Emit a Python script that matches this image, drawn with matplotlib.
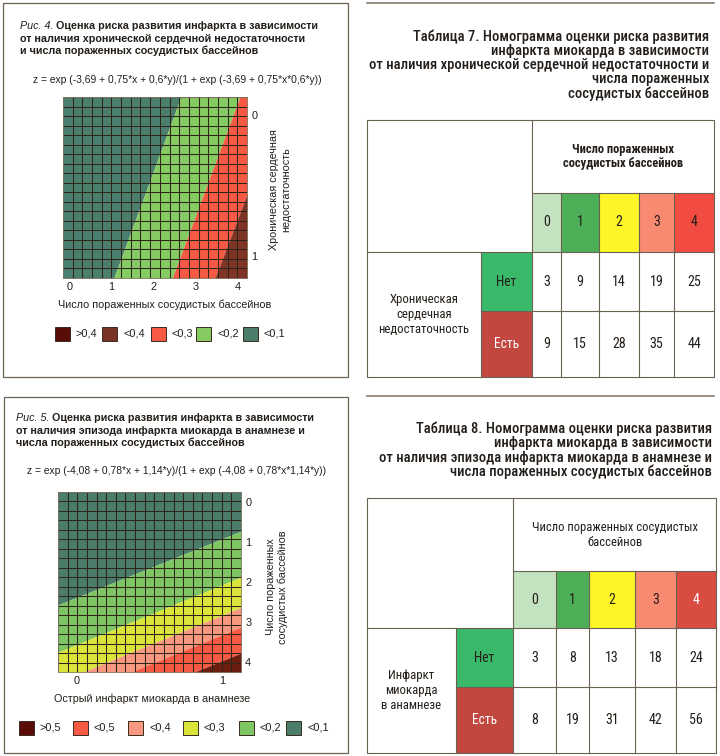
import matplotlib
matplotlib.use("Agg")
import matplotlib.pyplot as plt
from matplotlib.patches import Rectangle
import numpy as np

W, H = 720, 756
SANS = ['Liberation Sans', 'DejaVu Sans']
NARROW = ['Roboto Condensed', 'Liberation Sans Narrow', 'Roboto', 'DejaVu Sans']
INK = '#231e19'
FRAME = '#6b6152'
GRID = '#2e2418'

# --- fig. 4: risk vs. number of affected vascular beds and CHF ---
fig4_formula = "z = exp (-3,69 + 0,75*x + 0,6*y)/(1 + exp (-3,69 + 0,75*x*0,6*y))"
fig4_xticks = [0, 1, 2, 3, 4]
fig4_yticks = [0, 1]
# x position of each band edge at CHF = 0 and CHF = 1
fig4_edge_at0 = [2.49, 3.89, 4.94]
fig4_edge_at1 = [1.25, 2.64, 3.66]
fig4_band_colors = ['#4b7f6d', '#86cb62', '#f75a44', '#7f3526']
fig4_legend = ['>0,4', '<0,4', '<0,3', '<0,2', '<0,1']
fig4_legend_colors = ['#5a0d08', '#7a3322', '#f65a45', '#86cb62', '#4b7d6b']

# --- fig. 5: risk vs. previous MI and number of affected vascular beds ---
fig5_formula = "z = exp (-4,08 + 0,78*x + 1,14*y)/(1 + exp (-4,08 + 0,78*x*1,14*y))"
fig5_xticks = [0, 1]
fig5_yticks = [0, 1, 2, 3, 4]
# y position of each band edge at MI = 0 and MI = 1
fig5_edge_at0 = [2.38, 3.56, 4.31, 4.80, 5.45]
fig5_edge_at1 = [0.92, 2.07, 2.83, 3.32, 3.97]
fig5_band_colors = ['#4b7d6b', '#7ec564', '#d9e53b', '#f8997f', '#f75a44', '#6b1e0f']
fig5_legend = ['>0,5', '<0,5', '<0,4', '<0,3', '<0,2', '<0,1']
fig5_legend_colors = ['#5a0d08', '#f65a45', '#f8997f', '#d9e53b', '#7ec564', '#4b7d6b']

# --- tables 7 and 8 ---
table_cols = ['0', '1', '2', '3', '4']
table_rows = ['Нет', 'Есть']
t7_values = [[3, 9, 14, 19, 25], [9, 15, 28, 35, 44]]
t8_values = [[3, 8, 13, 18, 24], [8, 19, 31, 42, 56]]
t7_col_colors = ['#c3e2bf', '#4caf58', '#fff526', '#f98a72', '#f24b41']
t8_col_colors = ['#c3e2bf', '#4caf58', '#fff526', '#f98a72', '#d94c42']
t7_col_text = [INK, INK, INK, INK, INK]
t8_col_text = [INK, INK, INK, INK, 'white']
row_colors = ['#3bb96b', '#c1473f']
row_text = [INK, 'white']


def pt(px):
    return px * 0.72


fig = plt.figure(figsize=(W / 100, H / 100), dpi=100)
bg = fig.add_axes([0, 0, 1, 1])
bg.set_xlim(0, W)
bg.set_ylim(H, 0)
bg.axis('off')


def add_plot(l, t, r, b):
    return fig.add_axes([l / W, 1 - b / H, (r - l) / W, (b - t) / H])


def grid_cells(ax, ncols, nrows):
    for f in np.linspace(0, 1, ncols + 1):
        ax.plot([f, f], [0, 1], transform=ax.transAxes, color=GRID, lw=0.75)
    for f in np.linspace(0, 1, nrows + 1):
        ax.plot([0, 1], [f, f], transform=ax.transAxes, color=GRID, lw=0.75)


def style_plot(ax):
    ax.yaxis.tick_right()
    ax.tick_params(length=0, pad=3, labelsize=pt(11), labelcolor=INK)
    for lab in ax.get_xticklabels() + ax.get_yticklabels():
        lab.set_family(SANS)
    for s in ax.spines.values():
        s.set_color('#8a8070')
        s.set_linewidth(0.6)


def edge(a0, a1, t):
    # straight band edge known at 0 and 1, carried to t
    return [a0 + (a1 - a0) * v for v in t]


def panel_title(x, y0, first, rest, formula, fy):
    t = bg.text(x, y0, first, fontsize=pt(10.7), style='italic', family=SANS,
                color=INK, va='bottom')
    bg.annotate(rest[0], xy=(1, 0), xycoords=t, fontsize=pt(10.7), weight='bold',
                family=SANS, color=INK, va='bottom')
    for i, line in enumerate(rest[1:]):
        bg.text(x, y0 + 12.5 * (i + 1), line, fontsize=pt(10.7), weight='bold',
                family=SANS, color=INK, va='bottom')
    bg.text(177, fy, formula, fontsize=pt(10.2), family=SANS, color=INK,
            ha='center', va='center')


def legend_row(xs, y, labels, colors):
    for x, lab, c in zip(xs, labels, colors):
        bg.add_patch(Rectangle((x, y), 15, 14, facecolor=c, edgecolor='#3a2a20', lw=0.7))
        bg.text(x + 21, y + 7, lab, fontsize=pt(11), family=SANS, color=INK,
                va='center')


# panel frames
bg.add_patch(Rectangle((2.5, 2.5), 345, 374.5, fill=False, edgecolor=FRAME, lw=0.9))
bg.add_patch(Rectangle((3.5, 396.5), 344, 356.5, fill=False, edgecolor=FRAME, lw=0.9))

# ---------- fig. 4 ----------
panel_title(20, 31, "Рис. 4. ",
            ["Оценка риска развития инфаркта в зависимости",
             "от наличия хронической сердечной недостаточности",
             "и числа пораженных сосудистых бассейнов"],
            fig4_formula, 80)

ax1 = add_plot(63, 97, 247, 278)
ys = [-1, 2]
for i, c in enumerate(fig4_band_colors):
    left = edge(fig4_edge_at0[i - 1], fig4_edge_at1[i - 1], ys) if i > 0 else [-5, -5]
    right = edge(fig4_edge_at0[i], fig4_edge_at1[i], ys) if i < len(fig4_edge_at0) else [10, 10]
    ax1.fill_betweenx(ys, left, right, color=c, lw=0)
ax1.set_xlim(-0.15, 4.22)
ax1.set_ylim(1.156, -0.128)
ax1.set_xticks(fig4_xticks)
ax1.set_yticks(fig4_yticks)
grid_cells(ax1, 19, 19)
style_plot(ax1)

bg.text(165, 305, "Число пораженных сосудистых бассейнов", fontsize=pt(10.7),
        family=SANS, color=INK, ha='center', va='center')
bg.text(280, 190, "Хроническая сердечная\nнедостаточность", fontsize=pt(10.7),
        family=SANS, color=INK, ha='center', va='center', rotation=90,
        multialignment='center', linespacing=1.3)
legend_row([55, 102, 151, 196, 243], 327, fig4_legend, fig4_legend_colors)

# ---------- fig. 5 ----------
panel_title(16, 423, "Рис. 5. ",
            ["Оценка риска развития инфаркта в зависимости",
             "от наличия эпизода инфаркта миокарда в анамнезе и",
             "числа пораженных сосудистых бассейнов"],
            fig5_formula, 471)

ax2 = add_plot(58, 492, 241, 672)
xs = [-1, 2]
for i, c in enumerate(fig5_band_colors):
    top = edge(fig5_edge_at0[i - 1], fig5_edge_at1[i - 1], xs) if i > 0 else [-5, -5]
    bottom = edge(fig5_edge_at0[i], fig5_edge_at1[i], xs) if i < len(fig5_edge_at0) else [10, 10]
    ax2.fill_between(xs, top, bottom, color=c, lw=0)
ax2.set_xlim(-0.131, 1.131)
ax2.set_ylim(4.25, -0.25)
ax2.set_xticks(fig5_xticks)
ax2.set_yticks(fig5_yticks)
grid_cells(ax2, 19, 19)
style_plot(ax2)

bg.text(152, 699, "Острый инфаркт миокарда в анамнезе", fontsize=pt(10.7),
        family=SANS, color=INK, ha='center', va='center')
bg.text(277, 587, "Число пораженных\nсосудистых бассейнов", fontsize=pt(10.7),
        family=SANS, color=INK, ha='center', va='center', rotation=90,
        multialignment='center', linespacing=1.3)
legend_row([19, 73, 128, 183, 239, 286], 721, fig5_legend, fig5_legend_colors)


# ---------- tables ----------
def draw_table(x0, xr, xc, ys, title, title_y, title_x, header, header_bold,
               row_title, col_colors, col_text, values):
    # xc: column edges of the numeric block, ys: top, header, colour row, row 1, row 2
    top, yh, yc, y1, y2 = ys
    x1 = xc[-1]
    bg.text(title_x, title_y, title, fontsize=pt(14.6), weight='medium', family=NARROW,
            color=INK, ha='right', va='center', multialignment='right', linespacing=1.02)
    for j, lab in enumerate(table_cols):
        bg.add_patch(Rectangle((xc[j], yh), xc[j + 1] - xc[j], yc - yh,
                               facecolor=col_colors[j], edgecolor='none'))
        bg.text((xc[j] + xc[j + 1]) / 2, (yh + yc) / 2, lab, fontsize=pt(14),
                family=NARROW, color=col_text[j], ha='center', va='center')
    bounds = [yc, y1, y2]
    for i, lab in enumerate(table_rows):
        bg.add_patch(Rectangle((xr, bounds[i]), xc[0] - xr, bounds[i + 1] - bounds[i],
                               facecolor=row_colors[i], edgecolor='none'))
        bg.text((xr + xc[0]) / 2, (bounds[i] + bounds[i + 1]) / 2, lab, fontsize=pt(13.5),
                family=NARROW, color=row_text[i], ha='center', va='center')
        for j, v in enumerate(values[i]):
            bg.text((xc[j] + xc[j + 1]) / 2, (bounds[i] + bounds[i + 1]) / 2, str(v),
                    fontsize=pt(14), family=NARROW, color=INK, ha='center', va='center')
    bg.text((xc[0] + x1) / 2, (top + yh) / 2, header, fontsize=pt(12.5),
            weight='bold' if header_bold else 'normal', family=NARROW, color=INK,
            ha='center', va='center', linespacing=1.2)
    bg.text((x0 + xr) / 2, (yc + y2) / 2, row_title, fontsize=pt(12.8), family=NARROW,
            color=INK, ha='center', va='center', linespacing=1.17)
    lw = 0.8
    bg.add_patch(Rectangle((x0, top), x1 - x0, y2 - top, fill=False, edgecolor=FRAME, lw=lw))
    bg.plot([xc[0], xc[0]], [top, y2], color=FRAME, lw=lw)
    bg.plot([x0, x1], [yc, yc], color=FRAME, lw=lw)
    bg.plot([xc[0], x1], [yh, yh], color=FRAME, lw=lw)
    bg.plot([xr, x1], [y1, y1], color=FRAME, lw=lw)
    bg.plot([xr, xr], [yc, y2], color=FRAME, lw=lw)
    for x in xc[1:-1]:
        bg.plot([x, x], [yh, y2], color=FRAME, lw=lw)


bg.plot([367, 714], [3, 3], color='#7a7062', lw=1.1)
draw_table(367, 481, [532, 561, 599, 639, 674, 714], [120, 193, 252, 311, 377],
           "Таблица 7. Номограмма оценки риска развития\nинфаркта миокарда в зависимости\n"
           "от наличия хронической сердечной недостаточности и\nчисла пораженных\n"
           "сосудистых бассейнов", 65, 709,
           "Число пораженных\nсосудистых бассейнов", True,
           "Хроническая\nсердечная\nнедостаточность",
           t7_col_colors, t7_col_text, t7_values)

bg.plot([367, 714], [396, 396], color='#7a7062', lw=1.1)
draw_table(367, 456, [513, 556, 589, 635, 676, 716], [498, 571, 628, 687, 753],
           "Таблица 8. Номограмма оценки риска развития\nинфаркта миокарда в зависимости\n"
           "от наличия эпизода инфаркта миокарда в анамнезе и\n"
           "числа пораженных сосудистых бассейнов", 450.5, 712,
           "Число пораженных сосудистых\nбассейнов", False,
           "Инфаркт\nмиокарда\nв анамнезе",
           t8_col_colors, t8_col_text, t8_values)

fig.savefig("out.png", dpi=100)
